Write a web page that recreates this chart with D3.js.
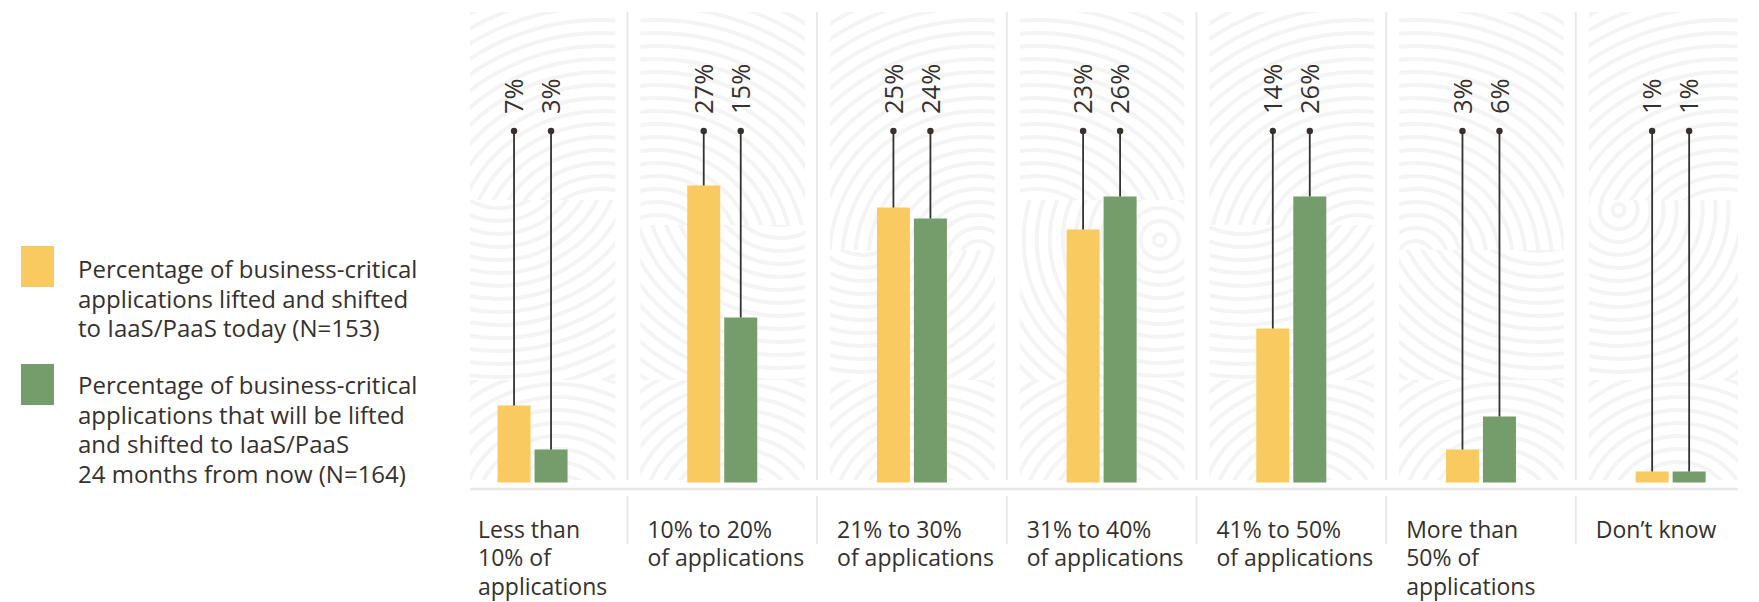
<!DOCTYPE html>
<html>
<head>
<meta charset="utf-8">
<script src="https://cdn.jsdelivr.net/npm/d3@7"></script>
<style>
  html, body { margin: 0; padding: 0; background: #ffffff; }
  svg text { font-family: "Open Sans", "Noto Sans", sans-serif; fill: #35312e; }
</style>
</head>
<body>
<svg id="chart" width="1759" height="602"></svg>
<script>

var categories = ["lt10", "10to20", "21to30", "31to40", "41to50", "gt50", "dontknow"];
var categoryLines = [
    ["Less than", "10% of", "applications"],
    ["10% to 20%", "of applications"],
    ["21% to 30%", "of applications"],
    ["31% to 40%", "of applications"],
    ["41% to 50%", "of applications"],
    ["More than", "50% of", "applications"],
    ["Don\u2019t know"]
];
var series = ["today", "future"];
var todayValues = [7, 27, 25, 23, 14, 3, 1];
var futureValues = [3, 15, 24, 26, 26, 6, 1];
var legendLines = [
    ["Percentage of business-critical", "applications lifted and shifted", "to IaaS/PaaS today (N=153)"],
    ["Percentage of business-critical", "applications that will be lifted", "and shifted to IaaS/PaaS", "24 months from now (N=164)"]
];

var colors = { today: "#f9ca60", future: "#759d6c" };

var svg = d3.select("#chart");

var x = d3.scaleBand().domain(categories).range([437.7, 1765.5]);
var x1 = d3.scaleBand().domain(series).range([-35, 35]).paddingInner(0.108);
var y = d3.scaleLinear().domain([0, 28]).range([482.5, 482.5 - 28 * 11]);

var panelTop = 12, panelBottom = 480, axisY = 489, dotY = 131;
var plotLeft = 470, plotRight = 1738;

var data = categories.map(function (c, i) {
    return { cat: c, i: i, lines: categoryLines[i], values: [
        { key: "today", value: todayValues[i] },
        { key: "future", value: futureValues[i] }
    ] };
});

// panel backgrounds with a light fingerprint-like swirl texture
var defs = svg.append("defs");
var panels = svg.append("g").attr("class", "panels");

data.forEach(function (d) {
    var x0 = Math.max(plotLeft, x(d.cat) + 13);
    var x2 = Math.min(plotRight, x(d.cat) + x.bandwidth() - 12);
    var w = x2 - x0;
    var strips = [
        { y0: panelTop, y1: 200 + (d.i % 3) * 25, cx: x0 + w * (d.i % 2 ? 0.1 : 0.9), cy: 260 },
        { y0: 200 + (d.i % 3) * 25, y1: 380, cx: x0 + w * (d.i % 2 ? 0.85 : 0.2), cy: 150 + (d.i % 4) * 30 },
        { y0: 380, y1: panelBottom, cx: x0 + w * 0.6, cy: 520 }
    ];
    strips.forEach(function (s, j) {
        var id = "clip-" + d.i + "-" + j;
        defs.append("clipPath").attr("id", id)
            .append("rect").attr("x", x0).attr("y", s.y0).attr("width", w).attr("height", s.y1 - s.y0);
        var g = panels.append("g").attr("clip-path", "url(#" + id + ")");
        g.selectAll("circle")
            .data(d3.range(6, 320, 13))
            .enter()
            .append("circle")
            .attr("cx", s.cx)
            .attr("cy", s.cy)
            .attr("r", function (r) { return r; })
            .attr("fill", "none")
            .attr("stroke", "#f4f4f4")
            .attr("stroke-width", 4);
    });
});

// separators between categories
var seps = categories.slice(1);
svg.append("g").selectAll("line.sep-top")
    .data(seps)
    .enter()
    .append("line")
    .attr("class", "sep-top")
    .attr("x1", function (c) { return x(c); })
    .attr("x2", function (c) { return x(c); })
    .attr("y1", panelTop)
    .attr("y2", panelBottom)
    .attr("stroke", "#e8e8e8")
    .attr("stroke-width", 2);

svg.append("g").selectAll("line.sep-bottom")
    .data(seps)
    .enter()
    .append("line")
    .attr("class", "sep-bottom")
    .attr("x1", function (c) { return x(c); })
    .attr("x2", function (c) { return x(c); })
    .attr("y1", 496)
    .attr("y2", 544)
    .attr("stroke", "#e8e8e8")
    .attr("stroke-width", 2);

// axis line
svg.append("line")
    .attr("x1", plotLeft)
    .attr("x2", plotRight)
    .attr("y1", axisY)
    .attr("y2", axisY)
    .attr("stroke", "#e8e8e8")
    .attr("stroke-width", 2.5);

var groups = svg.append("g").selectAll("g.group")
    .data(data)
    .enter()
    .append("g")
    .attr("class", "group")
    .attr("transform", function (d) { return "translate(" + (x(d.cat) + x.bandwidth() / 2) + ",0)"; });

var items = groups.selectAll("g.item")
    .data(function (d) { return d.values; })
    .enter()
    .append("g")
    .attr("class", "item");

items.append("rect")
    .attr("x", function (v) { return x1(v.key); })
    .attr("y", function (v) { return y(v.value); })
    .attr("width", x1.bandwidth())
    .attr("height", function (v) { return y(0) - y(v.value); })
    .attr("fill", function (v) { return colors[v.key]; });

items.append("line")
    .attr("x1", function (v) { return x1(v.key) + x1.bandwidth() / 2; })
    .attr("x2", function (v) { return x1(v.key) + x1.bandwidth() / 2; })
    .attr("y1", dotY)
    .attr("y2", function (v) { return y(v.value); })
    .attr("stroke", "#35312e")
    .attr("stroke-width", 1.8);

items.append("circle")
    .attr("cx", function (v) { return x1(v.key) + x1.bandwidth() / 2; })
    .attr("cy", dotY)
    .attr("r", 3.2)
    .attr("fill", "#35312e");

items.append("text")
    .attr("transform", function (v) { return "translate(" + (x1(v.key) + x1.bandwidth() / 2) + ",114) rotate(-90)"; })
    .attr("dy", "0.36em")
    .attr("font-size", 25.5)
    .text(function (v) { return v.value + "%"; });

// category labels, one text per line
var catLabels = [];
data.forEach(function (d) {
    var tx = Math.max(478, x(d.cat) + 20);
    d.lines.forEach(function (l, k) {
        catLabels.push({ x: tx, y: 538 + k * 28.3, text: l });
    });
});

svg.append("g").selectAll("text.cat")
    .data(catLabels)
    .enter()
    .append("text")
    .attr("class", "cat")
    .attr("font-size", 23)
    .attr("x", function (t) { return t.x; })
    .attr("y", function (t) { return t.y; })
    .text(function (t) { return t.text; });

// legend
var legend = [
    { key: "today", rectY: 246, textY: 278, lines: legendLines[0] },
    { key: "future", rectY: 364, textY: 394, lines: legendLines[1] }
];

var lg = svg.append("g").selectAll("g.legend")
    .data(legend)
    .enter()
    .append("g")
    .attr("class", "legend");

lg.append("rect")
    .attr("x", 21)
    .attr("y", function (d) { return d.rectY; })
    .attr("width", 33)
    .attr("height", 41)
    .attr("fill", function (d) { return colors[d.key]; });

lg.selectAll("text")
    .data(function (d) { return d.lines.map(function (l, k) { return { text: l, y: d.textY + k * 29.5 }; }); })
    .enter()
    .append("text")
    .attr("font-size", 24)
    .attr("x", 78)
    .attr("y", function (t) { return t.y; })
    .text(function (t) { return t.text; });

</script>
</body>
</html>
